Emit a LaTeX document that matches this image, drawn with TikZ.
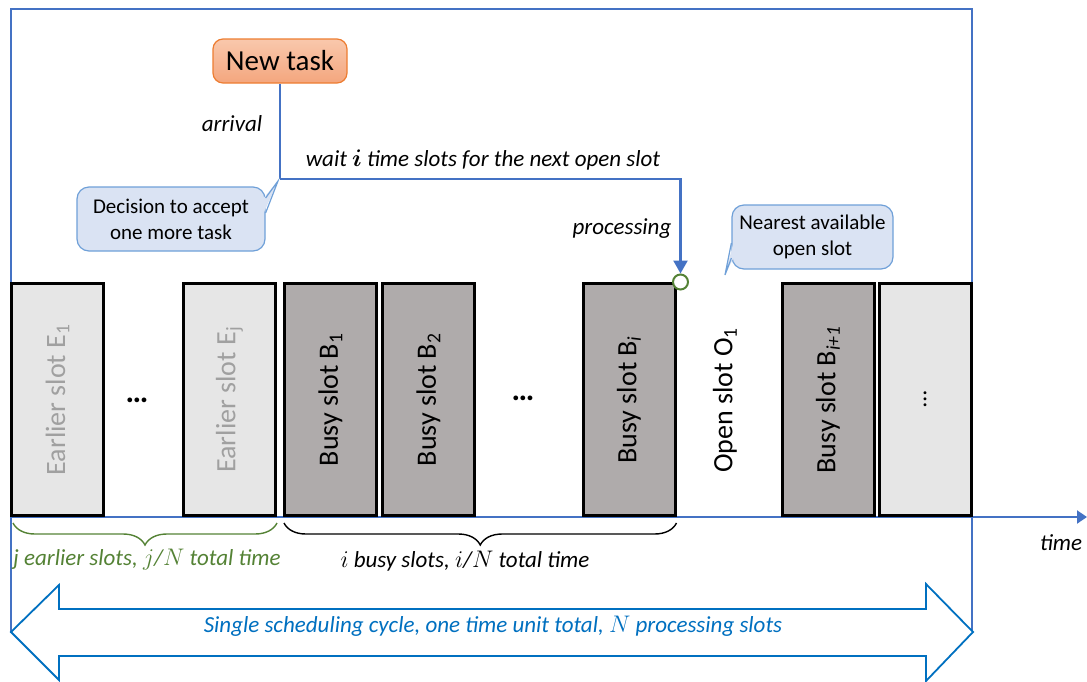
\documentclass[tikz,border=0pt]{standalone}
\usepackage{amsmath}
\usepackage{fontspec}
\setmainfont{Carlito}
\usetikzlibrary{arrows.meta,calc,decorations.pathreplacing}
\definecolor{flowblue}{HTML}{4472C4}
\definecolor{cycleblue}{HTML}{0070C0}
\definecolor{earlyfill}{HTML}{E6E6E6}
\definecolor{earlytext}{HTML}{A0A0A0}
\definecolor{busyfill}{HTML}{AFABAB}
\definecolor{notefill}{HTML}{DAE3F3}
\definecolor{noteline}{HTML}{6FA0D8}
\definecolor{slotgreen}{HTML}{548235}
\definecolor{tasktop}{HTML}{F9C8AC}
\definecolor{taskbottom}{HTML}{F4A67E}
\definecolor{taskline}{HTML}{ED7D31}

\begin{document}
\begin{tikzpicture}[x=0.5pt,y=-0.5pt,
  font=\fontsize{10.5}{13}\selectfont,
  frame/.style={draw=flowblue,line width=0.6pt},
  slot/.style={draw=black,line width=1.5pt,minimum width=46pt,minimum height=116pt,
    inner sep=0pt,font=\fontsize{14}{16}\selectfont},
  earlier/.style={slot,fill=earlyfill,text=earlytext},
  busy/.style={slot,fill=busyfill},
  task/.style={draw=taskline,line width=0.6pt,rounded corners=5pt,top color=tasktop,
    bottom color=taskbottom,minimum width=67pt,minimum height=22pt,
    font=\fontsize{14.5}{17}\selectfont},
  note/.style={draw=noteline,line width=0.6pt,fill=notefill,rounded corners=6pt,
    align=center,inner sep=0pt},
  flow/.style={draw=flowblue,line width=1.2pt},
  axis/.style={draw=flowblue,line width=1pt,-{Triangle[length=5pt,width=6.5pt]}},
  brace/.style={decorate,decoration={brace,mirror,amplitude=11pt},line width=0.7pt},
  dots/.style={font=\fontsize{16}{16}\selectfont\bfseries},
  lbl/.style={font=\fontsize{11.5}{14}\selectfont\itshape},
  cyclearrow/.style={draw=cycleblue,line width=0.9pt,fill=white}
]
  \useasboundingbox (0,0) rectangle (1087,681);

  % frame and time axis
  \draw[frame] (11,633) -- (11,9) -- (972,9) -- (972,633);
  \coordinate (t0) at (11,517);
  \coordinate (tend) at (1087,517);
  \draw[axis] (t0) -- (tend);
  \node[lbl] (timelbl) at (1061,543) {time};

  % slots
  \foreach \name/\xc/\kind/\txt in {
      e1/57.5/earlier/{Earlier slot E\textsubscript{1}},
      ej/229.5/earlier/{Earlier slot E\textsubscript{j}},
      b1/330.5/busy/{Busy slot B\textsubscript{1}},
      b2/428.5/busy/{Busy slot B\textsubscript{2}},
      bi/629/busy/{Busy slot B\textsubscript{\textit{i}}},
      bnext/828/busy/{Busy slot B\textsubscript{\textit{i+1}}}}
    \node[\kind] (\name) at (\xc,399.5) {\rotatebox{90}{\txt}};
  \node[earlier,text=black,font=\fontsize{12}{12}\selectfont] (etail) at (925,399.5)
    {\rotatebox{90}{\ldots}};
  \node[dots] (edots) at (137,400) {\ldots};
  \node[dots] (bdots) at (523,398) {\ldots};
  \node[font=\fontsize{14}{16}\selectfont] (open) at (725,400)
    {\rotatebox{90}{Open slot O\textsubscript{1}}};

  % new task and its path
  \node[task] (newtask) at (280,61) {New task};
  \node[circle,draw=slotgreen,fill=white,line width=1pt,minimum size=7.5pt,inner sep=0pt]
    (opening) at ($(bi.north east)+(4,0)$) {};
  \coordinate (turn) at (280,179);
  \draw[flow] (newtask.south) -- (turn);
  \draw[flow,-{Triangle[length=6.5pt,width=7pt]}] (turn) -| (opening);
  \node[lbl] (arrival) at (232,124) {arrival};
  \node[lbl] (wait) at (483,160) {wait $\boldsymbol{i}$ time slots for the next open slot};
  \node[lbl] (processing) at (622,229) {processing};

  % callouts
  \node[note,minimum width=94pt,minimum height=32pt] (decide) at (171,219)
    {Decision to accept\\one more task};
  \coordinate (decidetip) at ($(turn)+(-2,2)$);
  \fill[notefill] ($(decide.east)+(-2,-21)$) -- (decidetip) -- ($(decide.east)+(-2,-6)$) -- cycle;
  \draw[noteline,line width=0.6pt] ($(decide.east)+(0,-21)$) -- (decidetip)
    -- ($(decide.east)+(0,-6)$);
  \node[note,minimum width=80.5pt,minimum height=32pt] (nearest) at (812.5,237)
    {Nearest available\\open slot};
  \coordinate (nearesttip) at (725,275);
  \fill[notefill] ($(nearest.west)+(2,6)$) -- (nearesttip) -- ($(nearest.west)+(2,21)$) -- cycle;
  \draw[noteline,line width=0.6pt] ($(nearest.west)+(0,6)$) -- (nearesttip)
    -- ($(nearest.west)+(0,21)$);

  % braces
  \draw[brace,slotgreen] ($(e1.south west)+(3,6)$) -- ($(ej.south east)+(0,6)$);
  \node[lbl,text=slotgreen] (earlylbl) at (147,560)
    {j earlier slots, $j$/$N$ total time};
  \draw[brace,black] ($(b1.south west)+(1,6)$) -- ($(bi.south east)+(0,6)$);
  \node[lbl] (busylbl) at (465,561) {$i$ busy slots, $i$/$N$ total time};

  % scheduling cycle
  \draw[cyclearrow] (11,632) -- (59,585) -- (59,609) -- (926,609) -- (926,584)
    -- (973,632) -- (926,681) -- (926,656) -- (59,656) -- (59,680) -- cycle;
  \node[lbl,text=cycleblue] (cyclelbl) at (493,626)
    {Single scheduling cycle, one time unit total, $N$ processing slots};
\end{tikzpicture}
\end{document}
